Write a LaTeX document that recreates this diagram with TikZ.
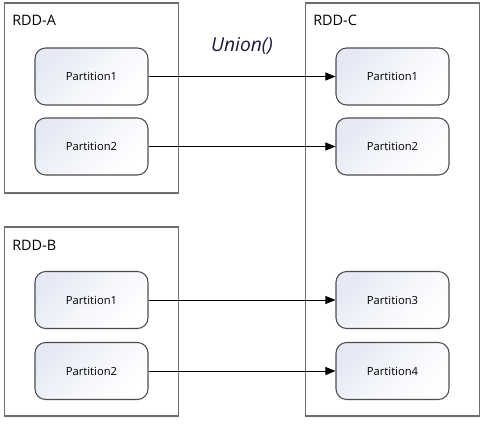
\documentclass[tikz,border=0pt]{standalone}
\usepackage{fontspec}
\setmainfont{Open Sans}
\usetikzlibrary{arrows.meta,shadows}

\definecolor{boxgray}{HTML}{6E6E6E}
\definecolor{partline}{HTML}{4D4D4D}
\definecolor{partfill}{HTML}{E4E9F4}
\definecolor{uniontxt}{HTML}{1A1A3A}

\tikzset{
  rddbox/.style={draw=boxgray, line width=1.1pt, fill=white,
    drop shadow={opacity=0.12, shadow xshift=0.6pt, shadow yshift=-1.5pt, fill=blue!40},
    minimum width=130.5pt, inner sep=0pt},
  part/.style={draw=partline, line width=0.8pt, rounded corners=8pt,
    top color=partfill, bottom color=white, middle color=white!60!partfill, shading angle=45,
    minimum width=84.75pt, minimum height=42.75pt, inner sep=0pt,
    font=\fontsize{8.4}{10}\selectfont},
  rddlabel/.style={anchor=west, inner sep=0pt, font=\fontsize{10.8}{12}\selectfont},
  link/.style={-{Triangle[length=7.5pt,width=6pt]}, line width=0.75pt}
}

\begin{document}
\begin{tikzpicture}[x=0.75pt, y=-0.75pt]
  \useasboundingbox (0,0) rectangle (485,425);

  % outer boxes
  \node[rddbox, minimum height=142.5pt] (rddA) at (91.25,98) {};
  \node[rddbox, minimum height=141.75pt] (rddB) at (91.25,321.5) {};
  \node[rddbox, minimum height=309.75pt] (rddC) at (392.25,209.5) {};

  \node[rddlabel] (labA) at (12,20.5) {RDD-A};
  \node[rddlabel] (labB) at (12,245) {RDD-B};
  \node[rddlabel] (labC) at (313,20.5) {RDD-C};

  % partitions
  \node[part] (a1) at (91.5,76.5) {Partition1};
  \node[part] (a2) at (91.5,146.5) {Partition2};
  \node[part] (b1) at (91.5,300) {Partition1};
  \node[part] (b2) at (91.5,371) {Partition2};
  \node[part] (c1) at (392.5,76.5) {Partition1};
  \node[part] (c2) at (392.5,146.5) {Partition2};
  \node[part] (c3) at (392.5,300) {Partition3};
  \node[part] (c4) at (392.5,371) {Partition4};

  \node[font=\fontsize{14.4}{16}\selectfont\itshape, text=uniontxt] (union) at (242,46) {Union()};

  \draw[link] (a1) -- (c1);
  \draw[link] (a2) -- (c2);
  \draw[link] (b1) -- (c3);
  \draw[link] (b2) -- (c4);
\end{tikzpicture}
\end{document}
